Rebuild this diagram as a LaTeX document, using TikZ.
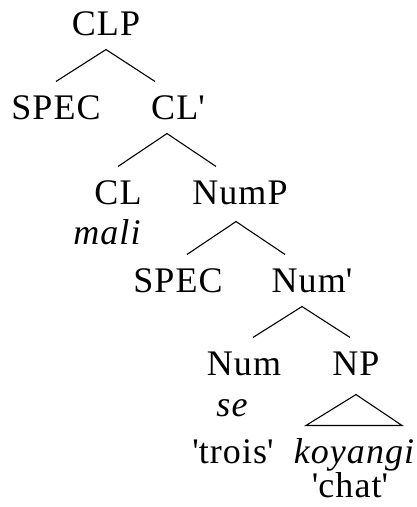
\documentclass[tikz,border=0pt]{standalone}
\usepackage{fontspec}
\setmainfont[LetterSpace=3]{Liberation Serif}
\begin{document}
\begin{tikzpicture} [x=1pt, y=1pt, line width=1.1pt, cat/.style={anchor=base, inner sep=7pt,
text height=30pt, text depth=7pt, font=\fontsize{36}{40}\selectfont},
gloss/.style={cat, font=\fontsize{36}{40}\selectfont\itshape}]
    \useasboundingbox (0,0) rectangle (416,-507);
    % categories
    \node[cat] (clp) at (106,-35) {CLP};
    \node[cat] (spec1) at (56,-119) {SPEC};
    \node[cat] (clbar) at (178,-119) {CL\textquotesingle};
    \node[cat] (cl) at (118,-204) {CL};
    \node[cat] (nump) at (240,-204) {NumP};
    \node[cat] (spec2) at (178,-292) {SPEC};
    \node[cat] (numbar) at (312,-292) {Num\textquotesingle};
    \node[cat] (num) at (244,-375) {Num};
    \node[cat] (np) at (356,-375) {NP};
    % words
    \node[gloss] (mali) at (107,-244) {mali};
    \node[gloss] (se) at (232,-416) {se};
    \node[cat] (trois) at (233,-463) {\textquotesingle trois\textquotesingle};
    \node[gloss] (koyangi) at (354,-463) {koyangi};
    \node[cat] (chat) at (350,-497) {\textquotesingle chat\textquotesingle};
    % branches
    \draw (spec1.north) -- (clp.south) -- ([xshift=-23pt]clbar.north);
    \draw (cl.north) -- ([xshift=-11pt]clbar.south) -- ([xshift=-24pt]nump.north);
    \draw ([xshift=9pt]spec2.north) -- ([xshift=-4pt,yshift=-3pt]nump.south) -- ([xshift=-27pt]numbar.north);
    \draw ([xshift=9pt]num.north) -- ([xshift=-10pt]numbar.south) -- ([xshift=-6pt]np.north);
    \draw ([yshift=-5pt]np.south) -- ([xshift=-48pt]koyangi.north) -- ([xshift=48pt]koyangi.north) -- cycle;
  \end{tikzpicture}
\end{document}
